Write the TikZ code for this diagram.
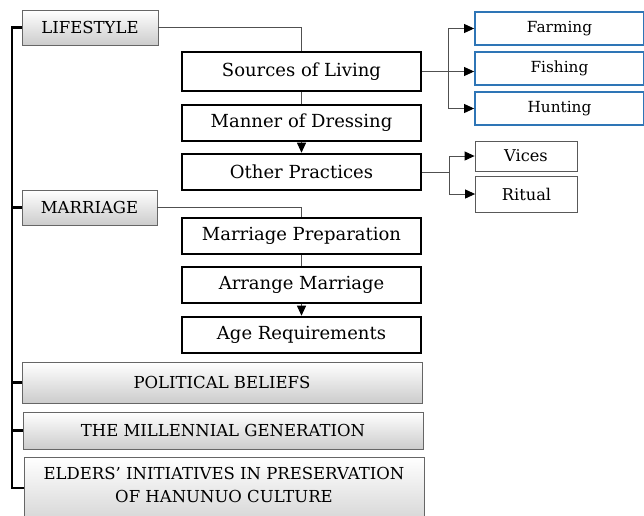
\documentclass[tikz,border=0pt]{standalone}
\usepackage{fontspec}
\setmainfont{DejaVu Serif}
\usetikzlibrary{arrows.meta,positioning}

\definecolor{boxblue}{RGB}{46,117,182}
\definecolor{linegray}{RGB}{80,80,80}

\tikzset{
  topic/.style={draw=gray!80!black, top color=white, bottom color=gray!40,
    minimum height=35pt, inner sep=2pt, font=\fontsize{16.5}{23}\selectfont, align=center},
  item/.style={draw=black, line width=2.6pt, minimum width=239pt, minimum height=36pt,
    inner sep=2pt, font=\fontsize{18}{21}\selectfont},
  leafblue/.style={draw=boxblue, line width=1.8pt, minimum width=169pt, minimum height=33pt,
    inner sep=2pt, font=\fontsize{15.3}{18}\selectfont},
  leaf/.style={draw=gray!70!black, line width=0.8pt, minimum width=102pt, minimum height=30pt,
    inner sep=2pt, font=\fontsize{16.2}{19}\selectfont},
  link/.style={draw=linegray, line width=0.9pt},
  arrowlink/.style={link, -{Triangle[color=black,length=10pt,width=9pt]}},
  spine/.style={draw=black, line width=2.6pt}
}

\begin{document}
\begin{tikzpicture}[x=1pt,y=-1pt]
    \clip (0,0) rectangle (644,515);
    \fill[white] (0,0) rectangle (644,515);

    % main topics down the left side
    \node[topic, minimum width=136pt] (life) at (90,27.5) {LIFESTYLE};
    \node[topic, minimum width=135pt] (marr) at (89.5,207.5) {MARRIAGE};
    \node[topic, minimum width=400pt, minimum height=41pt] (pol) at (222,382.5) {POLITICAL BELIEFS};
    \node[topic, minimum width=400pt, minimum height=37pt] (mill) at (223,430.5) {THE MILLENNIAL GENERATION};
    \node[topic, minimum width=400pt, anchor=north, inner ysep=10pt, text depth=24pt] (eld) at (224,457)
        {ELDERS' INITIATIVES IN PRESERVATION\\OF HANUNUO CULTURE};

    % lifestyle items
    \node[item, minimum height=39pt] (src) at (301.5,71.5) {Sources of Living};
    \node[item] (dress) at (301.5,123) {Manner of Dressing};
    \node[item] (other) at (301.5,172) {Other Practices};

    % marriage items
    \node[item] (prep) at (301.5,236) {Marriage Preparation};
    \node[item] (arr) at (301.5,285) {Arrange Marriage};
    \node[item] (age) at (301.5,335) {Age Requirements};

    % sources of living
    \node[leafblue] (farm) at (559.5,28.5) {Farming};
    \node[leafblue] (fish) at (559.5,68.5) {Fishing};
    \node[leafblue] (hunt) at (559.5,108.5) {Hunting};

    % other practices
    \node[leaf] (vices) at (526,156) {Vices};
    \node[leaf, minimum height=36pt] (rit) at (526.5,194) {Ritual};

    % spine
    \coordinate (top) at (12,27.5);
    \draw[spine] (life.west) -- (top) |- ([yshift=-31pt]eld.north west);
    \foreach \t in {marr,pol,mill}
        \draw[spine] (\t.west) -- (\t.west -| top);

    % topic to first item
    \draw[link] (life.east) -| (src.north);
    \draw[link] (marr.east) -| (prep.north);
    \draw[link] (src.south) -- (dress.north);
    \draw[arrowlink] (dress.south) -- (other.north);
    \draw[link] (prep.south) -- (arr.north);
    \draw[arrowlink] (arr.south) -- (age.north);

    % branches to the right
    \coordinate (sj) at ([xshift=26pt]src.east);
    \draw[link] (src.east) -- (sj);
    \draw[arrowlink] (sj) |- (farm.west);
    \draw[arrowlink] (sj) -- (sj -| fish.west);
    \draw[arrowlink] (sj) |- (hunt.west);

    \coordinate (oj) at ([xshift=27pt]other.east);
    \draw[link] (other.east) -- (oj);
    \draw[arrowlink] (oj) |- (vices.west);
    \draw[arrowlink] (oj) |- (rit.west);
\end{tikzpicture}
\end{document}
